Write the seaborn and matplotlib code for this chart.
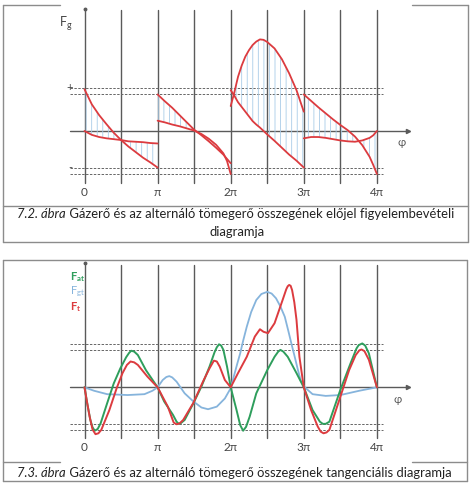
import matplotlib
matplotlib.use('Agg')
import matplotlib.pyplot as plt
import seaborn as sns

# x values are in units of pi
tick_pos = [0, 1, 2, 3, 4]
tick_labels = ['0', 'π', '2π', '3π', '4π']
grid_x = [0, 0.5, 1, 1.5, 2, 2.5, 3, 3.5, 4]
dash_levels = [1.0, 0.86, -0.86, -1.0]

# 7.2 - one pair of curves per half turn
seg1_x = [0, .1, .2, .3, .4, .5, .6, .7, .8, .9, 1.0]
seg1_a = [0.97, 0.62, 0.37, 0.16, -0.04, -0.21, -0.36, -0.49, -0.62, -0.73, -0.85]
seg1_b = [0, -0.09, -0.14, -0.17, -0.19, -0.21, -0.24, -0.25, -0.26, -0.28, -0.29]

seg2_x = [1.0, 1.1, 1.2, 1.3, 1.4, 1.5, 1.6, 1.7, 1.8, 1.9, 1.95, 2.0]
seg2_a = [0.85, 0.69, 0.54, 0.37, 0.2, 0.03, -0.1, -0.24, -0.39, -0.55, -0.65, -0.75]
seg2_b = [0.24, 0.2, 0.15, 0.11, 0.06, 0.01, -0.07, -0.18, -0.32, -0.52, -0.7, -1.0]

seg3_x = [2.0, 2.05, 2.1, 2.15, 2.2, 2.25, 2.3, 2.35, 2.4, 2.45, 2.5, 2.6, 2.7, 2.8, 2.9, 3.0]
seg3_a = [0.58, 0.9, 1.26, 1.52, 1.73, 1.88, 2.0, 2.08, 2.13, 2.12, 2.07, 1.92, 1.67, 1.34, 0.95, 0.45]
seg3_b = [0.95, 0.82, 0.67, 0.56, 0.45, 0.34, 0.23, 0.15, 0.08, 0.0, -0.08, -0.23, -0.39, -0.55, -0.69, -0.85]

seg4_x = [3.0, 3.1, 3.2, 3.3, 3.4, 3.5, 3.6, 3.7, 3.8, 3.9, 3.95, 4.0]
seg4_a = [0.85, 0.7, 0.55, 0.41, 0.27, 0.14, 0.02, -0.13, -0.33, -0.6, -0.79, -1.0]
seg4_b = [-0.17, -0.14, -0.14, -0.16, -0.19, -0.22, -0.24, -0.25, -0.22, -0.16, -0.1, 0]

# 7.3 - tangential forces
fat_x = [0, 0.04, 0.08, 0.11, 0.14, 0.18, 0.22, 0.31, 0.40, 0.49, 0.57, 0.61, 0.64, 0.68, 0.73, 0.84, 1.0,
         1.09, 1.21, 1.26, 1.29, 1.32, 1.37, 1.49, 1.6, 1.71, 1.78, 1.81, 1.84, 1.87, 1.9, 1.95, 2.0,
         2.08, 2.13, 2.17, 2.21, 2.26, 2.35, 2.5, 2.6, 2.65, 2.68, 2.72, 2.78, 2.9, 3.0,
         3.12, 3.22, 3.26, 3.3, 3.35, 3.5, 3.64, 3.72, 3.75, 3.8, 3.84, 3.89, 4.0]
fat_y = [0, -0.4, -0.76, -0.93, -1.01, -0.97, -0.84, -0.37, 0.09, 0.44, 0.70, 0.80, 0.85, 0.83, 0.75, 0.40, 0,
         -0.33, -0.64, -0.8, -0.85, -0.83, -0.76, -0.37, 0.02, 0.48, 0.82, 0.93, 1.0, 0.97, 0.87, 0.48, 0,
         -0.53, -0.88, -1.01, -0.92, -0.68, -0.14, 0.40, 0.71, 0.83, 0.87, 0.83, 0.71, 0.33, 0,
         -0.53, -0.8, -0.85, -0.85, -0.8, -0.06, 0.56, 0.9, 0.98, 1.02, 0.97, 0.79, 0]

ft_x = [0, 0.03, 0.07, 0.11, 0.15, 0.19, 0.23, 0.34, 0.44, 0.52, 0.58, 0.63, 0.68, 0.73, 0.86, 1.0,
        1.14, 1.22, 1.26, 1.3, 1.35, 1.49, 1.62, 1.71, 1.77, 1.81, 1.85, 1.92, 2.0,
        2.1, 2.22, 2.33, 2.4, 2.45, 2.51, 2.6, 2.71, 2.76, 2.78, 2.8, 2.82, 2.84, 2.87, 2.9, 2.94, 3.0,
        3.1, 3.19, 3.23, 3.27, 3.31, 3.35, 3.5, 3.62, 3.71, 3.76, 3.79, 3.83, 3.89, 4.0]
ft_y = [0, -0.3, -0.68, -0.98, -1.09, -1.07, -0.99, -0.53, -0.02, 0.33, 0.52, 0.60, 0.58, 0.52, 0.25, 0,
        -0.45, -0.82, -0.86, -0.84, -0.76, -0.36, 0.13, 0.44, 0.62, 0.6, 0.48, 0.17, 0,
        0.33, 0.71, 1.18, 1.35, 1.29, 1.26, 1.49, 2.03, 2.28, 2.35, 2.38, 2.36, 2.26, 1.98, 1.57, 0.71, 0,
        -0.53, -0.91, -1.03, -1.07, -1.05, -0.99, -0.22, 0.40, 0.75, 0.86, 0.88, 0.84, 0.64, 0]

fgt_x = [0, 0.13, 0.31, 0.59, 0.82, 0.93, 1.0, 1.07, 1.12, 1.16, 1.2, 1.26, 1.37, 1.49, 1.6, 1.69, 1.81, 1.92, 2.0,
         2.05, 2.09, 2.13, 2.17, 2.22, 2.28, 2.35, 2.42, 2.5, 2.56, 2.62, 2.68, 2.74, 2.79, 2.83, 2.88, 2.92, 2.96,
         3.0, 3.12, 3.3, 3.5, 3.76, 4.0]
fgt_y = [0, -0.08, -0.16, -0.18, -0.16, -0.08, 0, 0.17, 0.24, 0.26, 0.23, 0.13, -0.14, -0.33, -0.47, -0.51, -0.45,
         -0.26, -0.02, 0.3, 0.55, 0.79, 1.08, 1.41, 1.75, 2.03, 2.17, 2.22, 2.18, 2.07, 1.88, 1.64, 1.3, 1.02, 0.68,
         0.40, 0.15, 0.02, -0.16, -0.2, -0.18, -0.08, 0]

cap1_it = '7.2. ábra'
cap1_rest = ' Gázerő és az alternáló tömegerő összegének előjel figyelembevételi'
cap1_line2 = 'diagramja'
cap2_it = '7.3. ábra'
cap2_rest = ' Gázerő és az alternáló tömegerő összegének tangenciális diagramja'

sns.set_theme(style='white')
plt.rcParams['font.family'] = ['Lato', 'DejaVu Sans']
plt.rcParams['hatch.linewidth'] = 0.6

red = '#dc3b3f'
green = '#2e9e5c'
blue = '#86b4dc'
hatch_blue = '#a9cce8'
grey = '#5a5a5a'
frame = '#8c8c8c'

fig = plt.figure(figsize=(4.74, 4.90), dpi=100)

# background axes in pixel units for the frames and captions
bg = fig.add_axes([0, 0, 1, 1])
bg.set_xlim(0, 474)
bg.set_ylim(490, 0)
bg.axis('off')

frame_lines = [
    ([3, 3], [5, 242]), ([468, 468], [5, 242]), ([3, 60], [5, 5]), ([412, 468], [5, 5]),
    ([3, 468], [206, 206]), ([3, 468], [242, 242]),
    ([3, 467], [260, 260]), ([3, 3], [260, 481]), ([467, 467], [260, 481]),
    ([3, 60], [462, 462]), ([412, 467], [462, 462]), ([3, 467], [481, 481]),
]
for xs, ys in frame_lines:
    bg.plot(xs, ys, color=frame, lw=1.0)

cap_size = 9.4


def caption(x, y, it, rest):
    t1 = bg.text(x, y, it, fontsize=cap_size, style='italic', color='#222222', va='bottom')
    bg.annotate(rest, xy=(1, 0), xycoords=t1, fontsize=cap_size, color='#222222', va='bottom')


caption(17, 220, cap1_it, cap1_rest)
bg.text(237, 238, cap1_line2, fontsize=cap_size, color='#222222', ha='center', va='bottom')
caption(17, 479, cap2_it, cap2_rest)

PX = 73.1   # pixels per pi
PY = 43.0   # pixels per unit


def make_axes(top_px, bot_px, zero_px):
    ax = fig.add_axes([0, 1 - bot_px / 490, 1, (bot_px - top_px) / 490])
    ax.set_xlim(-84.5 / PX, (474 - 84.5) / PX)
    ax.set_ylim(-(bot_px - zero_px) / PY, (zero_px - top_px) / PY)
    ax.patch.set_alpha(0)
    ax.axis('off')
    return ax


def decorate(ax, vtop, vbot, tick_y, phi_xy):
    for gx in grid_x:
        ax.plot([gx, gx], [vbot, vtop], color=grey, lw=1.0, zorder=1)
    ax.plot([0], [vtop + 0.03], marker='o', ms=1.8, color=grey)
    ax.plot([-0.2, 4.4], [0, 0], color=grey, lw=1.0, zorder=1)
    ax.plot([4.42], [0], marker='>', ms=3, color=grey)
    for lv in dash_levels:
        ax.plot([-0.2, 4.08], [lv, lv], color='#666666', lw=0.7, ls=(0, (2.5, 1.5)), zorder=1)
    for p, lab in zip(tick_pos, tick_labels):
        ax.text(p, tick_y, lab, fontsize=8.5, color='#444444', ha='center', va='center')
    ax.text(phi_xy[0], phi_xy[1], 'φ', fontsize=8, color='#555555', ha='center', va='center')


# --- 7.2 ---
ax1 = make_axes(0, 200, 131)
decorate(ax1, 2.81, -1.21, -1.42, (4.34, -0.27))
ax1.text(-0.25, 2.5, 'F$_\\mathregular{g}$', fontsize=9, color='#444444', ha='center', va='center')
ax1.text(-0.2, 1.0, '+', fontsize=8, color='#444444', ha='center', va='center')
ax1.text(-0.2, -0.86, '-', fontsize=8, color='#444444', ha='center', va='center')

for sx, sa, sb in [(seg1_x, seg1_a, seg1_b), (seg2_x, seg2_a, seg2_b),
                   (seg3_x, seg3_a, seg3_b), (seg4_x, seg4_a, seg4_b)]:
    ax1.fill_between(sx, sa, sb, facecolor='none', edgecolor=hatch_blue, hatch='|||', lw=0, zorder=2)
    sns.lineplot(x=sx, y=sa, ax=ax1, color=red, lw=1.3, estimator=None, zorder=3)
    sns.lineplot(x=sx, y=sb, ax=ax1, color=red, lw=1.3, estimator=None, zorder=3)

# --- 7.3 ---
ax2 = make_axes(250, 460, 387.3)
decorate(ax2, 2.85, -1.18, -1.39, (4.29, -0.28))
sns.lineplot(x=fgt_x, y=fgt_y, ax=ax2, color=blue, lw=1.3, estimator=None, zorder=3)
sns.lineplot(x=fat_x, y=fat_y, ax=ax2, color=green, lw=1.4, estimator=None, zorder=4)
sns.lineplot(x=ft_x, y=ft_y, ax=ax2, color=red, lw=1.4, estimator=None, zorder=5)
ax2.text(-0.2, 2.57, 'F$_\\mathregular{at}$', fontsize=8, color=green, fontweight='bold', ha='left', va='center')
ax2.text(-0.2, 2.22, 'F$_\\mathregular{gt}$', fontsize=8, color=blue, ha='left', va='center')
ax2.text(-0.2, 1.87, 'F$_\\mathregular{t}$', fontsize=8, color=red, fontweight='bold', ha='left', va='center')

fig.savefig('out.png', dpi=100)
